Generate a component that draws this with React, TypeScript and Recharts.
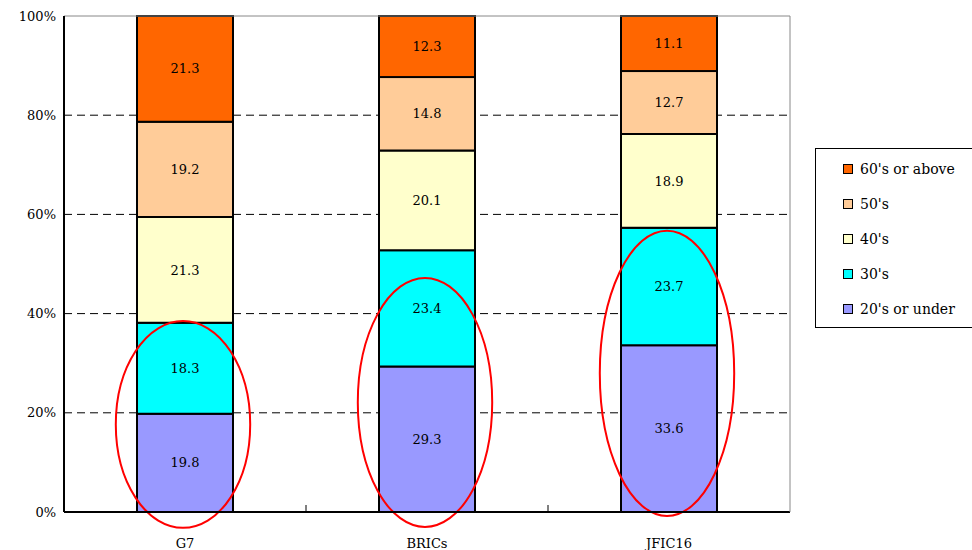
import { Bar, BarChart, CartesianGrid, LabelList, XAxis, YAxis } from "recharts";

const categories = ["G7", "BRICs", "JFIC16"];
const under20s = [19.8, 29.3, 33.6];
const thirties = [18.3, 23.4, 23.7];
const forties = [21.3, 20.1, 18.9];
const fifties = [19.2, 14.8, 12.7];
const sixtiesUp = [21.3, 12.3, 11.1];
const yTicks = [0, 0.2, 0.4, 0.6, 0.8, 1];
const gridLines = [0.2, 0.4, 0.6, 0.8];

// red ellipses drawn round the two youngest groups (top / bottom in % of the axis)
const circleTop = [38.5, 47.2, 56.7];
const circleBottom = [-3.2, -3.0, -0.8];

const SERIES = [
  { key: "u20", name: "20's or under", color: "#9999ff" },
  { key: "s30", name: "30's", color: "#00ffff" },
  { key: "s40", name: "40's", color: "#ffffcc" },
  { key: "s50", name: "50's", color: "#ffcc99" },
  { key: "s60", name: "60's or above", color: "#ff6600" },
];

const data = categories.map((name, i) => ({
  name,
  idx: i,
  u20: under20s[i],
  s30: thirties[i],
  s40: forties[i],
  s50: fifties[i],
  s60: sixtiesUp[i],
}));

const FONT = "'DejaVu Serif', serif";
const TICK = { fill: "#000", fontSize: 13, fontFamily: FONT };

// top segment: draw rect, then the annotation ellipse on top of everything
function TopShape(props: any) {
  const { x, y, width, height, fill, payload } = props;
  const total = payload.u20 + payload.s30 + payload.s40 + payload.s50 + payload.s60;
  const plotH = (height * total) / payload.s60;
  const yOf = (p: number) => y + (1 - p / 100) * plotH;
  const i = payload.idx;
  const top = yOf(circleTop[i]);
  const bottom = yOf(circleBottom[i]);
  return (
    <g>
      <rect x={x} y={y} width={width} height={height} fill={fill} stroke="#000" strokeWidth={2} />
      <ellipse
        cx={x + width / 2 - 2}
        cy={(top + bottom) / 2}
        rx={width * 0.7}
        ry={(bottom - top) / 2}
        fill="none"
        stroke="#ff0000"
        strokeWidth={2}
      />
    </g>
  );
}

// category label plus the small inward tick mark at the left edge of each band
function CategoryTick(props: any) {
  const { x, y, payload, index, width, visibleTicksCount } = props;
  const band = width / (visibleTicksCount || categories.length);
  const axisY = y - 8;
  return (
    <g>
      {index > 0 ? (
        <line x1={x - band / 2} x2={x - band / 2} y1={axisY - 7} y2={axisY} stroke="#000" strokeWidth={1} />
      ) : null}
      <text x={x} y={y + 28} textAnchor="middle" fill="#000" fontSize={13} fontFamily={FONT}>
        {payload.value}
      </text>
    </g>
  );
}

function LegendBox() {
  return (
    <div
      style={{
        position: "absolute",
        left: 815,
        top: 148,
        border: "1px solid #000",
        width: 160,
        height: 180,
        boxSizing: "border-box",
        paddingTop: 2,
        fontFamily: FONT,
        fontSize: 14,
        background: "#fff",
      }}
    >
      {[...SERIES].reverse().map((s) => (
        <div key={s.key} style={{ display: "flex", alignItems: "center", height: 35, paddingLeft: 27 }}>
          <span
            style={{
              width: 8,
              height: 8,
              background: s.color,
              border: "1.5px solid #000",
              marginRight: 7,
            }}
          />
          {s.name}
        </div>
      ))}
    </div>
  );
}

export default function App() {
  return (
    <div style={{ position: "absolute", left: 0, top: 0, width: 972, height: 550, background: "#fff" }}>
      <BarChart
        width={972}
        height={550}
        data={data}
        stackOffset="expand"
        margin={{ top: 15, right: 181, left: 0, bottom: 8 }}
        barSize={96}
      >
        <CartesianGrid
          horizontal
          vertical={false}
          horizontalValues={gridLines}
          stroke="#000"
          strokeDasharray="8 5"
        />
        <XAxis
          dataKey="name"
          axisLine={{ stroke: "#000", strokeWidth: 2 }}
          tickLine={false}
          tick={<CategoryTick />}
          height={30}
        />
        <XAxis xAxisId="top" dataKey="name" orientation="top" axisLine={{ stroke: "#888" }} tick={false} tickLine={false} height={1} />
        <YAxis
          domain={[0, 1]}
          ticks={yTicks}
          tickFormatter={(v: number) => `${Math.round(v * 100)}%`}
          axisLine={{ stroke: "#000", strokeWidth: 2 }}
          tickLine={false}
          tick={TICK}
          width={64}
        />
        <YAxis yAxisId="right" orientation="right" axisLine={{ stroke: "#888" }} tick={false} tickLine={false} width={1} />
        {SERIES.map((s) => (
          <Bar
            key={s.key}
            dataKey={s.key}
            name={s.name}
            stackId="a"
            fill={s.color}
            stroke="#000"
            strokeWidth={2}
            isAnimationActive={false}
            shape={s.key === "s60" ? TopShape : undefined}
          >
            <LabelList dataKey={s.key} position="center" fill="#000" fontSize={13} fontFamily={FONT} />
          </Bar>
        ))}
      </BarChart>
      <LegendBox />
    </div>
  );
}
